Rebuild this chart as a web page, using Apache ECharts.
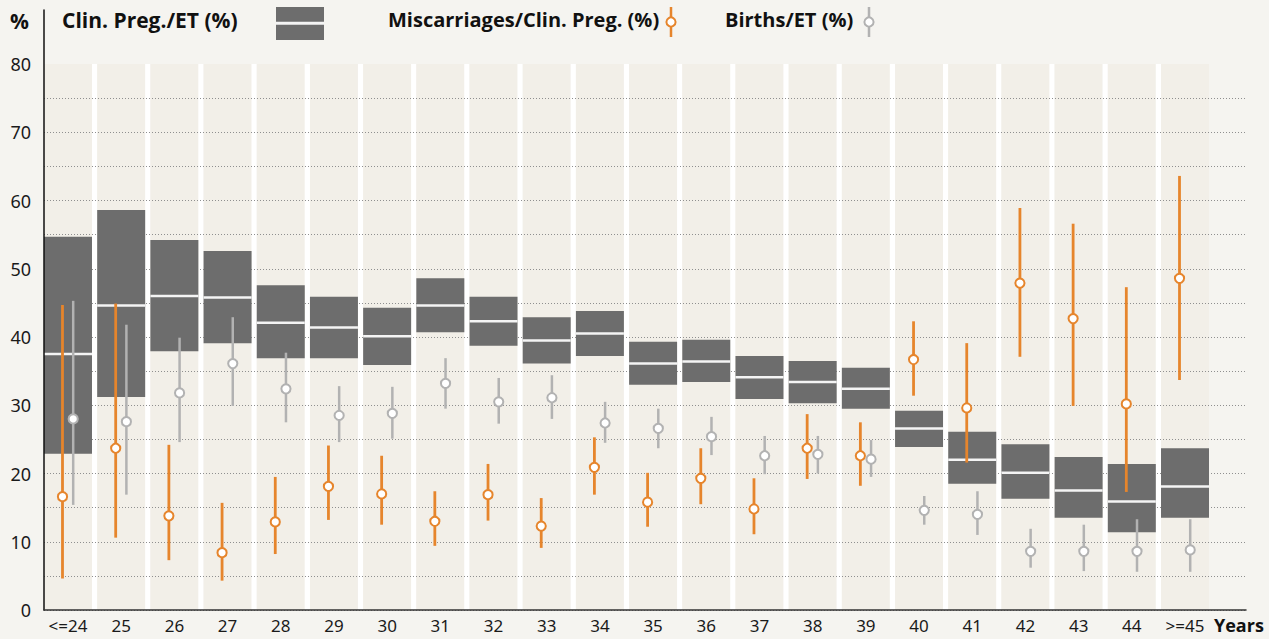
<!DOCTYPE html>
<html>
<head>
<meta charset="utf-8">
<script src="https://cdn.jsdelivr.net/npm/echarts@6/dist/echarts.min.js"></script>
<style>
  html, body { margin: 0; padding: 0; background: #f5f4f0; }
  #chart { width: 1269px; height: 639px; }
</style>
</head>
<body>
<div id="chart"></div>
<script>
// age groups
const ages = ['<=24', '25', '26', '27', '28', '29', '30', '31', '32', '33', '34',
  '35', '36', '37', '38', '39', '40', '41', '42', '43', '44', '>=45'];

// Clin. Preg./ET (%) - box low / median / high
const pregLow = [22.9, 31.2, 37.9, 39.1, 36.9, 36.9, 35.9, 40.7, 38.7, 36.1, 37.2,
  33.0, 33.4, 30.9, 30.3, 29.5, 23.9, 18.5, 16.3, 13.5, 11.4, 13.5];
const pregMid = [37.5, 44.6, 46.0, 45.8, 42.1, 41.4, 40.1, 44.6, 42.3, 39.5, 40.5,
  36.1, 36.4, 34.1, 33.4, 32.4, 26.6, 22.0, 20.1, 17.5, 15.9, 18.1];
const pregHigh = [54.7, 58.6, 54.2, 52.6, 47.6, 45.9, 44.3, 48.6, 45.9, 42.9, 43.8,
  39.3, 39.6, 37.2, 36.5, 35.5, 29.2, 26.1, 24.3, 22.4, 21.4, 23.7];

// Miscarriages/Clin. Preg. (%)
const miscLow = [4.6, 10.6, 7.3, 4.3, 8.2, 13.2, 12.5, 9.4, 13.1, 9.1, 16.9,
  12.2, 15.5, 11.1, 19.2, 18.2, 31.4, 21.6, 37.1, 29.9, 17.3, 33.7];
const miscVal = [16.6, 23.7, 13.8, 8.4, 12.9, 18.1, 17.0, 13.0, 16.9, 12.3, 20.9,
  15.8, 19.3, 14.8, 23.7, 22.6, 36.7, 29.6, 47.9, 42.7, 30.2, 48.6];
const miscHigh = [44.7, 44.9, 24.2, 15.7, 19.5, 24.1, 22.6, 17.4, 21.4, 16.4, 25.3,
  20.1, 23.7, 19.3, 28.7, 27.5, 42.3, 39.1, 58.9, 56.6, 47.3, 63.6];

// Births/ET (%)
const birthLow = [15.4, 16.9, 24.6, 29.9, 27.5, 24.6, 25.1, 29.5, 27.3, 28.0, 24.5,
  23.7, 22.7, 19.9, 20.0, 19.5, 12.5, 11.0, 6.2, 5.7, 5.6, 5.6];
const birthVal = [28.0, 27.6, 31.8, 36.1, 32.4, 28.5, 28.8, 33.2, 30.5, 31.1, 27.4,
  26.6, 25.4, 22.6, 22.8, 22.1, 14.6, 14.0, 8.6, 8.6, 8.6, 8.8];
const birthHigh = [45.3, 41.8, 39.9, 42.9, 37.7, 32.8, 32.7, 36.9, 34.0, 34.4, 30.5,
  29.5, 28.3, 25.5, 25.5, 24.9, 16.7, 17.4, 11.9, 12.5, 13.3, 13.3];

const yMax = 80;

const ORANGE = '#e6852c';
const GREY = '#b2b2b2';
const BOX = '#6d6d6d';
const LABEL_FONT = '"Noto Sans", sans-serif';
const BOLD_FONT = '"Open Sans", "Noto Sans", sans-serif';

const chart = echarts.init(document.getElementById('chart'), null, { renderer: 'svg' });

// split line colors: hide the one at the top (80)
const splitColors = [];
for (let v = 0; v <= yMax; v += 5) splitColors.push(v === yMax ? 'rgba(0,0,0,0)' : '#8f8f8f');

function bandItem(params, api) {
  const i = api.value(0);
  const w = api.size([1, 0])[0];
  const bw = w * 48 / 53.2;
  const top = api.coord([i, yMax]);
  const bot = api.coord([i, 0]);
  const children = [{
    type: 'rect',
    shape: { x: top[0] - bw / 2, y: top[1], width: bw, height: bot[1] - top[1] },
    style: { fill: '#f2efe8' }
  }];
  if (i < ages.length - 1) {
    children.push({
      type: 'rect',
      shape: { x: top[0] + bw / 2, y: top[1], width: w - bw, height: bot[1] - top[1] },
      style: { fill: '#ffffff' }
    });
  }
  return { type: 'group', children };
}

function boxItem(params, api) {
  const i = api.value(0);
  const w = api.size([1, 0])[0];
  const bw = w * 48 / 53.2;
  const lo = api.coord([i, api.value(1)]);
  const mid = api.coord([i, api.value(2)]);
  const hi = api.coord([i, api.value(3)]);
  return {
    type: 'group',
    children: [{
      type: 'rect',
      shape: { x: lo[0] - bw / 2, y: hi[1], width: bw, height: lo[1] - hi[1] },
      style: { fill: BOX }
    }, {
      type: 'line',
      shape: { x1: lo[0] - bw / 2, y1: mid[1], x2: lo[0] + bw / 2, y2: mid[1] },
      style: { stroke: '#f4f4f4', lineWidth: 2.5 }
    }]
  };
}

function errItem(offset, color, lw) {
  return function (params, api) {
    const i = api.value(0);
    const lo = api.coord([i, api.value(1)]);
    const pt = api.coord([i, api.value(2)]);
    const hi = api.coord([i, api.value(3)]);
    const x = lo[0] + offset;
    return {
      type: 'group',
      children: [{
        type: 'line',
        shape: { x1: x, y1: lo[1], x2: x, y2: hi[1] },
        style: { stroke: color, lineWidth: lw }
      }, {
        type: 'circle',
        shape: { cx: x, cy: pt[1], r: 4.6 },
        style: { fill: '#ffffff', stroke: color, lineWidth: 2 }
      }]
    };
  };
}

const bandData = ages.map((a, i) => [i, 0, yMax]);
const boxData = ages.map((a, i) => [i, pregLow[i], pregMid[i], pregHigh[i]]);
const miscData = ages.map((a, i) => [i, miscLow[i], miscVal[i], miscHigh[i]]);
const birthData = ages.map((a, i) => [i, birthLow[i], birthVal[i], birthHigh[i]]);

const legendText = {
  fontFamily: BOLD_FONT, fontWeight: 'bold', fontSize: 20, fill: '#111',
  verticalAlign: 'top'
};

const option = {
  backgroundColor: '#f5f4f0',
  animation: false,
  grid: [
    { left: 41.4, right: 57.4, top: 64, bottom: 29 },
    { left: 44, right: 23, top: 64, bottom: 29 },
    { left: 44, width: 1, top: 10, bottom: 29 }
  ],
  xAxis: [{
    type: 'category', gridIndex: 0, data: ages,
    axisLine: { show: false }, axisTick: { show: false },
    axisLabel: { interval: 0, fontFamily: LABEL_FONT, fontSize: 17, color: '#1a1a1a', margin: 7 }
  }, {
    type: 'value', gridIndex: 1, min: 0, max: 1, z: 6,
    axisLine: { show: true, lineStyle: { color: '#333', width: 1.5 } },
    axisTick: { show: false }, axisLabel: { show: false }, splitLine: { show: false }
  }, {
    type: 'value', gridIndex: 2, show: false
  }],
  yAxis: [{
    type: 'value', gridIndex: 0, min: 0, max: yMax, show: false
  }, {
    type: 'value', gridIndex: 1, min: 0, max: yMax, interval: 5, z: 2,
    axisLine: { show: false }, axisTick: { show: false },
    axisLabel: {
      fontFamily: LABEL_FONT, fontSize: 18, color: '#1a1a1a', margin: 13,
      formatter: v => (v % 10 === 0 ? String(v) : '')
    },
    splitLine: { show: true, lineStyle: { type: [1, 2], color: splitColors, width: 1 } }
  }, {
    type: 'value', gridIndex: 2, min: 0, max: 1, z: 6,
    axisLine: { show: true, lineStyle: { color: '#111', width: 1.5 } },
    axisTick: { show: false }, axisLabel: { show: false }, splitLine: { show: false }
  }],
  graphic: [
    { type: 'text', left: 10, top: 10, style: Object.assign({}, legendText, { text: '%', fontSize: 21 }) },
    { type: 'text', left: 62, top: 9, style: Object.assign({}, legendText, { text: 'Clin. Preg./ET (%)', fontSize: 21 }) },
    { type: 'rect', shape: { x: 276, y: 7, width: 48, height: 33 }, style: { fill: BOX } },
    { type: 'line', shape: { x1: 276, y1: 23.3, x2: 324, y2: 23.3 }, style: { stroke: '#f4f4f4', lineWidth: 3 } },
    { type: 'text', left: 388, top: 9, style: Object.assign({}, legendText, { text: 'Miscarriages/Clin. Preg. (%)' }) },
    { type: 'line', shape: { x1: 671, y1: 7, x2: 671, y2: 37 }, style: { stroke: ORANGE, lineWidth: 2.5 } },
    { type: 'circle', shape: { cx: 671, cy: 22, r: 4.6 }, style: { fill: '#fff', stroke: ORANGE, lineWidth: 2 } },
    { type: 'text', left: 725, top: 9, style: Object.assign({}, legendText, { text: 'Births/ET (%)' }) },
    { type: 'line', shape: { x1: 869, y1: 7, x2: 869, y2: 37 }, style: { stroke: GREY, lineWidth: 2.5 } },
    { type: 'circle', shape: { cx: 869, cy: 22, r: 4.6 }, style: { fill: '#fff', stroke: GREY, lineWidth: 2 } },
    { type: 'text', left: 1214, top: 616, style: Object.assign({}, legendText, { text: 'Years', fontSize: 18 }) }
  ],
  series: [{
    type: 'custom', name: 'bands', xAxisIndex: 0, yAxisIndex: 0, z: 1,
    renderItem: bandItem, data: bandData, encode: { x: 0, y: [1, 2] }, silent: true
  }, {
    type: 'custom', name: 'Clin. Preg./ET (%)', xAxisIndex: 0, yAxisIndex: 0, z: 3,
    renderItem: boxItem, data: boxData, encode: { x: 0, y: [1, 2, 3] }
  }, {
    type: 'custom', name: 'Miscarriages/Clin. Preg. (%)', xAxisIndex: 0, yAxisIndex: 0, z: 4,
    renderItem: errItem(-5.5, ORANGE, 2.8), data: miscData, encode: { x: 0, y: [1, 2, 3] }
  }, {
    type: 'custom', name: 'Births/ET (%)', xAxisIndex: 0, yAxisIndex: 0, z: 4,
    renderItem: errItem(5.2, GREY, 2.5), data: birthData, encode: { x: 0, y: [1, 2, 3] }
  }]
};

chart.setOption(option);
</script>
</body>
</html>
